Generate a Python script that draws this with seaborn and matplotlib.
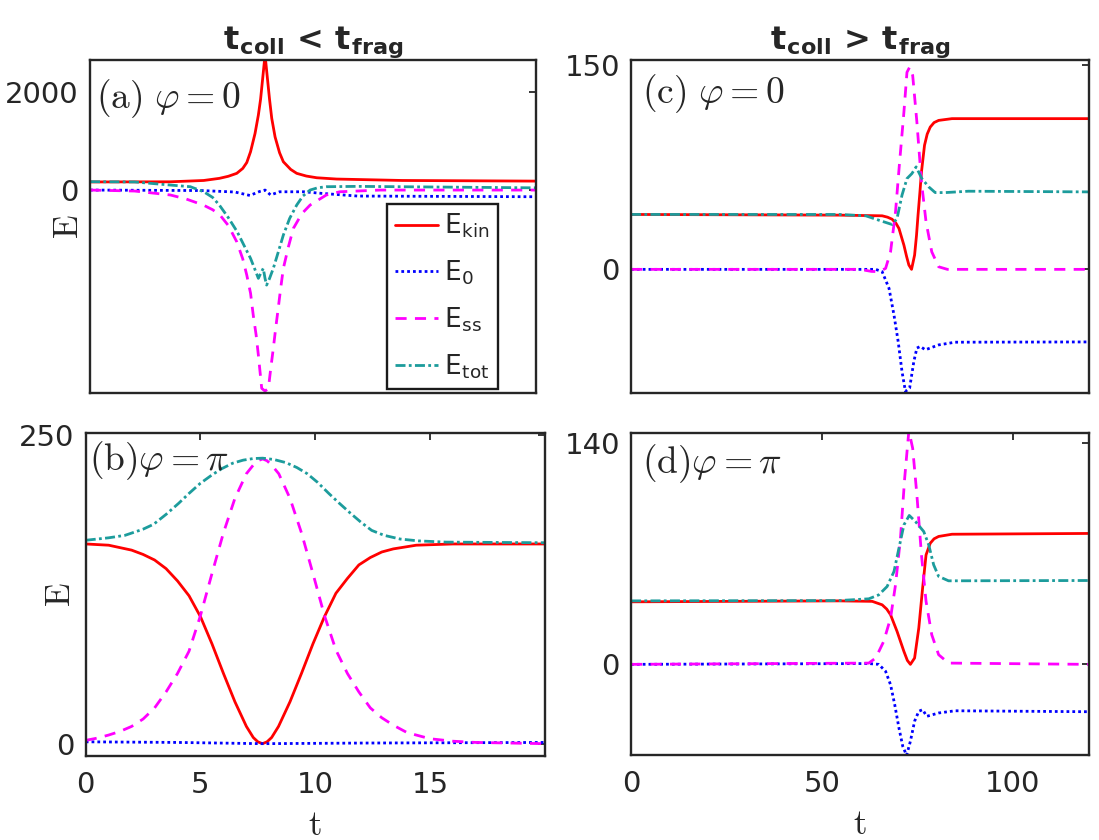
import matplotlib
matplotlib.use("Agg")
import matplotlib.pyplot as plt
import seaborn as sns

# ---- panel (a): t_coll < t_frag, phi = 0 ----
a_kin_t = [0, 3.6, 5.1, 5.8, 6.2, 6.58, 6.85, 7.03, 7.2, 7.4, 7.55, 7.65, 7.75, 7.85,
           7.95, 8.05, 8.15, 8.3, 8.5, 8.67, 9.0, 9.27, 9.7, 10.17, 11.06, 14, 20]
a_kin = [165, 168, 195, 238, 280, 340, 440, 560, 780, 1150, 1526, 1850, 2300, 2750,
         2300, 1850, 1459, 1080, 760, 576, 420, 340, 285, 250, 224, 195, 182]
a_e0_t = [0, 5, 6.5, 7.17, 7.6, 7.85, 8.1, 8.5, 9.6, 10.4, 12, 20]
a_e0 = [0, -10, -40, -110, -30, 0, -100, -35, -35, -68, -122, -136]
a_ss_t = [0, 2, 3.6, 4.3, 5.08, 5.5, 5.83, 6.2, 6.58, 6.85, 7.03, 7.2, 7.32, 7.45, 7.55, 7.7,
          7.85, 8.0, 8.1, 8.22, 8.33, 8.44, 8.55, 8.67, 8.9, 9.12, 9.5, 9.87, 10.6, 11.2, 13, 20]
a_ss = [0, -20, -100, -180, -305, -400, -509, -720, -1051, -1400, -1730, -2100, -2544, -2950,
        -3358, -4035, -4090, -4035, -3650, -3222, -2800, -2408, -2000, -1594, -1150, -780,
        -480, -305, -100, -35, 0, 0]
a_tot_t = [0, 2, 3.6, 4.5, 5.1, 5.5, 5.8, 6.2, 6.6, 6.9, 7.2, 7.4, 7.55, 7.65, 7.77, 7.85,
           7.92, 8.05, 8.22, 8.45, 8.67, 8.95, 9.27, 9.55, 9.87, 10.2, 10.6, 12, 20]
a_tot = [170, 165, 102, 68, -35, -150, -305, -560, -848, -1120, -1390, -1620, -1797, -1700,
         -1594, -1800, -1933, -1800, -1594, -1250, -916, -580, -305, -120, 0, 45, 68, 75, 45]

# ---- panel (b): t_coll < t_frag, phi = pi ----
b_kin_t = [0, 1, 2, 2.5, 3, 3.5, 4, 4.5, 5, 5.5, 6, 6.5, 7, 7.3, 7.5, 7.7, 7.9, 8.1, 8.4,
           8.9, 9.4, 9.9, 10.4, 10.9, 11.4, 11.9, 12.4, 12.9, 13.4, 14.4, 16, 20]
b_kin = [162, 161, 157, 153.5, 149, 142, 132, 120, 103, 81, 57, 34, 14, 5, 1.5, 0, 1.5, 5, 14,
         34, 57, 81, 103, 122, 134, 145, 151, 155.5, 158, 161, 162, 162]
b_e0_t = [0, 4, 7.7, 12, 20]
b_e0 = [1.5, 1, 0, 0.5, 1]
b_ss_t = [0, 0.5, 1, 1.5, 2, 2.5, 3, 3.5, 4, 4.5, 5, 5.5, 6, 6.5, 7, 7.3, 7.5, 7.71, 7.9, 8.1,
          8.41, 8.9, 9.4, 9.9, 10.4, 10.9, 11.4, 11.9, 12.4, 12.9, 13.4, 14, 15, 16, 17, 20]
b_ss = [2.7, 4.5, 7, 10, 14, 20, 29, 42, 57, 75, 104, 138, 171, 199, 219, 226, 229.5, 231,
        229.5, 226, 219, 199, 171, 138, 104, 76, 57, 42, 29, 21, 15, 9, 4, 2, 1, 0]
b_tot_t = [0, 1, 1.71, 2.5, 2.96, 3.5, 4.05, 4.5, 4.98, 5.5, 5.92, 6.4, 6.86, 7.3, 7.71, 8.2,
           8.72, 9.2, 9.65, 10.1, 10.59, 11.05, 11.53, 12.0, 12.46, 13, 13.7, 14.5, 15.7, 20]
b_tot = [165, 167, 169, 174, 178, 186, 195, 203, 211, 218, 223, 227.5, 230, 231.3, 231.6,
         230.5, 228, 224, 219, 212, 203, 195, 187, 179.5, 173, 169, 166, 164.5, 163.5, 163]

# ---- panel (c): t_coll > t_frag, phi = 0 ----
c_kin_t = [0, 54.5, 65.8, 67.2, 68.4, 69.4, 70.2, 71.5, 72.2, 72.8, 73.5, 74.3, 74.8, 75.2,
           75.7, 76.1, 76.9, 77.6, 78.4, 79.4, 80.6, 84.1, 120]
c_kin = [40.4, 39.9, 39.4, 38.4, 36.9, 34, 30.1, 17.8, 9.5, 3.2, 0, 10.5, 25, 39.9, 57, 71.7,
         91.3, 99.5, 104.7, 108, 109.6, 110.9, 110.9]
c_e0_t = [0, 54.5, 64.1, 65.8, 67.6, 68.9, 70, 71, 71.9, 73, 74.1, 74.9, 75.8, 77.1, 80.6, 84.9, 120]
c_e0 = [0, 0, 0, -1.7, -14, -33.6, -53.2, -75.2, -89.8, -87.3, -67.8, -57.9, -56.7, -59.2,
        -55.6, -53.6, -53.4]
c_ss_t = [0, 60, 63, 65, 66.7, 68, 69.3, 70.3, 71.5, 72.3, 73, 73.8, 74.9, 76.1, 77.3, 78.8,
          80.6, 82.9, 120]
c_ss = [0, 0, -1.5, -1.7, 0.7, 12.9, 42.2, 76.6, 115.7, 145, 148.8, 142.7, 108.4, 64.3, 34.9,
        12.9, 1.9, 0, 0]
c_tot_t = [0, 54.5, 61.5, 64.9, 68.4, 69.7, 71, 72.3, 73.6, 74.7, 76.2, 78, 79.7, 82.4, 88.4, 120]
c_tot = [40.4, 40.4, 39.4, 36.2, 33.0, 37.4, 54.6, 66.8, 70.5, 75.4, 66.8, 60.7, 56.5, 56.5, 57.5, 57]

# ---- panel (d): t_coll > t_frag, phi = pi ----
d_kin_t = [0, 54.5, 63.2, 65.8, 67, 68, 69.7, 71.5, 72.4, 73.2, 74.3, 75.4, 76.4, 77.3, 78.4,
           79.4, 80.6, 84.1, 120]
d_kin = [39.6, 40.2, 39.9, 37.7, 35, 31.4, 20.9, 8.2, 2.5, 0, 4, 23, 48.3, 69.3, 76.7, 79.5,
         81, 82.4, 82.9]
d_e0_t = [0, 62.3, 64.9, 66.7, 68, 69.1, 70.2, 71.2, 72.2, 73.2, 74.3, 75.4, 76.4, 77.5, 80.6, 84.9, 120]
d_e0 = [0, 0.5, 0, -4.4, -12.9, -25.6, -40.3, -51.9, -57.6, -48.7, -36, -29.7, -28.7, -32.9,
        -30.8, -29.4, -30]
d_ss_t = [0, 62.3, 64.1, 66.2, 68, 69.3, 70.6, 71.7, 72.8, 73.8, 74.9, 76.1, 77.3, 78.8, 80.6, 83.2, 120]
d_ss = [0, 0.8, 4, 14.5, 29.3, 50.4, 79.9, 117.9, 148, 136.8, 107.3, 69.3, 39.9, 18.7, 6.1, 0.8, 0]
d_tot_t = [0, 54.5, 62.3, 64.9, 67.1, 68.9, 70.2, 71.5, 72.9, 74.5, 76.7, 78, 79.3, 80.6, 83.2, 120]
d_tot = [40.2, 40.4, 41.5, 44, 49.3, 58.8, 73.6, 88.3, 94.3, 90.5, 84.1, 75.7, 63, 55.7, 52.9, 53.1]

legend_labels = [r"E$_{\mathregular{kin}}$", r"E$_{\mathregular{0}}$",
                 r"E$_{\mathregular{ss}}$", r"E$_{\mathregular{tot}}$"]

sns.set_theme(style="white")
plt.rcParams["font.family"] = ["DejaVu Sans"]
plt.rcParams["mathtext.fontset"] = "cm"
plt.rcParams["axes.edgecolor"] = "#262626"
plt.rcParams["axes.linewidth"] = 1.6

LW = 2.0
styles = [
    dict(color="#ff0000", linestyle="-"),
    dict(color="#0000ff", linestyle=(0, (1, 1.1))),
    dict(color="#ff00ff", linestyle=(0, (4, 3))),
    dict(color="#1c9c9c", linestyle=(0, (3.6, 1.2, 1, 1.2))),
]

fig = plt.figure(figsize=(10.99, 8.40), dpi=100)
ax_a = fig.add_axes([0.0819, 0.5321, 0.4058, 0.3964])
ax_b = fig.add_axes([0.0780, 0.1000, 0.4177, 0.3845])
ax_c = fig.add_axes([0.5742, 0.5321, 0.4167, 0.3964])
ax_d = fig.add_axes([0.5742, 0.1012, 0.4167, 0.3833])

panels = [
    (ax_a, [(a_kin_t, a_kin), (a_e0_t, a_e0), (a_ss_t, a_ss), (a_tot_t, a_tot)]),
    (ax_b, [(b_kin_t, b_kin), (b_e0_t, b_e0), (b_ss_t, b_ss), (b_tot_t, b_tot)]),
    (ax_c, [(c_kin_t, c_kin), (c_e0_t, c_e0), (c_ss_t, c_ss), (c_tot_t, c_tot)]),
    (ax_d, [(d_kin_t, d_kin), (d_e0_t, d_e0), (d_ss_t, d_ss), (d_tot_t, d_tot)]),
]

for ax, curves in panels:
    for (t, e), st, lab in zip(curves, styles, legend_labels):
        sns.lineplot(x=t, y=e, ax=ax, estimator=None, sort=False, lw=LW,
                     label=lab if ax is ax_a else None, legend=False, **st)
    ax.tick_params(direction="in", length=5, width=1.3, top=True, right=True,
                   labelsize=21, labelcolor="#262626", color="#262626")
    ax.tick_params(axis="y", pad=8)
    ax.tick_params(axis="x", pad=11)
    for s in ax.spines.values():
        s.set_linewidth(1.7)
        s.set_color("#262626")

# limits and ticks
ax_a.set_xlim(0, 20)
ax_a.set_ylim(-4130, 2645)
ax_a.set_yticks([0, 2000])
ax_a.set_xticks([])

ax_b.set_xlim(0, 20)
ax_b.set_ylim(-10, 252)
ax_b.set_yticks([0, 250])
ax_b.set_xticks([0, 5, 10, 15])

ax_c.set_xlim(0, 120)
ax_c.set_ylim(-91, 154)
ax_c.set_yticks([0, 150])
ax_c.set_xticks([])

ax_d.set_xlim(0, 120)
ax_d.set_ylim(-57.4, 146.5)
ax_d.set_yticks([0, 140])
ax_d.set_xticks([0, 50, 100])

# axis labels
ax_a.set_ylabel(r"$\mathrm{E}$", fontsize=25, color="#262626")
ax_a.yaxis.set_label_coords(-0.012, 0.5)
ax_b.set_ylabel(r"$\mathrm{E}$", fontsize=25, color="#262626")
ax_b.yaxis.set_label_coords(-0.02, 0.5)
for ax in (ax_b, ax_d):
    ax.set_xlabel(r"$\mathrm{t}$", fontsize=25, color="#262626")
    ax.xaxis.set_label_coords(0.5, -0.16)
ax_c.set_ylabel("")
ax_d.set_ylabel("")
ax_a.set_xlabel("")
ax_c.set_xlabel("")

# panel tags
ax_a.text(0.013, 0.885, r"$\mathrm{(a)}\ \varphi=0$", transform=ax_a.transAxes,
          fontsize=27, va="center", ha="left")
ax_b.text(0.007, 0.916, r"$\mathrm{(b)}\varphi=\pi$", transform=ax_b.transAxes,
          fontsize=27, va="center", ha="left")
ax_c.text(0.023, 0.898, r"$\mathrm{(c)}\ \varphi=0$", transform=ax_c.transAxes,
          fontsize=27, va="center", ha="left")
ax_d.text(0.023, 0.906, r"$\mathrm{(d)}\varphi=\pi$", transform=ax_d.transAxes,
          fontsize=27, va="center", ha="left")

# column titles
ax_a.set_title(r"t$_{\mathregular{coll}}$ < t$_{\mathregular{frag}}$",
               fontsize=23, fontweight="bold", pad=4)
ax_c.set_title(r"t$_{\mathregular{coll}}$ > t$_{\mathregular{frag}}$",
               fontsize=23, fontweight="bold", pad=4)

leg = ax_a.legend(loc="lower left", bbox_to_anchor=(0.667, 0.012), borderaxespad=0,
                  fontsize=19, frameon=True, fancybox=False, framealpha=1,
                  edgecolor="#1a1a1a", handlelength=1.6, handletextpad=0.25,
                  labelspacing=0.7, borderpad=0.3)
leg.get_frame().set_linewidth(1.7)

fig.savefig("out.png", dpi=100, facecolor="white")
